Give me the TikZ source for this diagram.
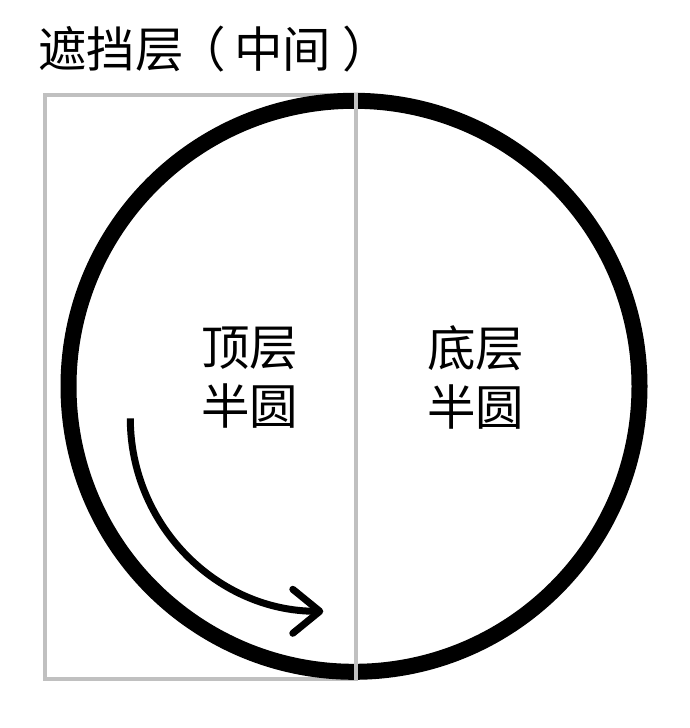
\documentclass[tikz,border=0pt]{standalone}
\usepackage{fontspec}
\setmainfont{Noto Sans CJK SC}
\usetikzlibrary{arrows.meta}
\definecolor{maskgray}{RGB}{192,192,192}

\begin{document}
\begin{tikzpicture}[x=1pt, y=-1pt, every node/.style={inner sep=0pt, font=\fontsize{48.5}{59}\selectfont}]
            \useasboundingbox (0,0) rectangle (690,728);
            \draw[maskgray, line width=4pt] (45.3,94.7) rectangle (356.3,679);
            \draw[line width=16pt] (354,386.3) circle[radius=285.5pt];
            \draw[maskgray, line width=4pt, line cap=rect] (356.3,94.7) -- (356.3,679);
            \node[anchor=base west] (mask) at (38,67) {遮挡层\hspace{-6pt}（\hspace{8pt}中间\hspace{11pt}）};
            \node[align=center] (top) at (249.5,377.5) {顶层\\半圆};
            \node[align=center] (bottom) at (475.5,377.5) {底层\\半圆};

            \coordinate (arcstart) at (130.3,418.3);
            \draw[line width=7pt, -{Straight Barb[length=27pt, width=44pt, round]}] (arcstart) arc [start angle=180, end angle=270, radius=193pt];
        \end{tikzpicture}
\end{document}
